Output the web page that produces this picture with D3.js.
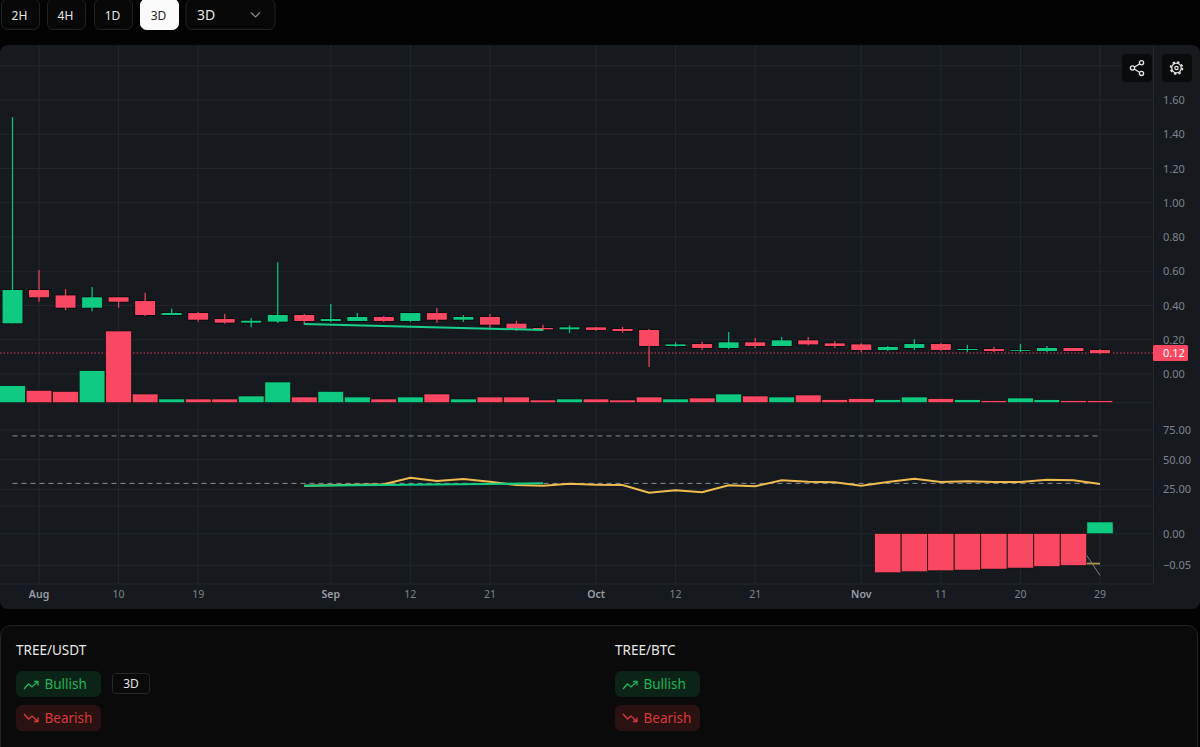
<!DOCTYPE html>
<html><head><meta charset="utf-8">
<script src="https://cdn.jsdelivr.net/npm/d3@7/dist/d3.min.js"></script>
<style>html,body{margin:0;padding:0;background:#030303;overflow:hidden}svg{display:block}text{font-family:"Noto Sans",sans-serif}</style>
</head><body><svg id="c" width="1200" height="747"></svg>
<script>
const opens =[.296,.4905,.459,.387,.448,.426,.3445,.356,.321,.2998,.3056,.3445,.3095,.3095,.333,.3095,.356,.317,.333,.294,.2686,.261,.2725,.263,.257,.1635,.175,.152,.185,.1635,.1966,.179,.173,.140,.152,.175,.140,.146,.136,.134,.152,.140];
const highs =[1.50,.607,.496,.508,.448,.475,.3815,.362,.350,.327,.652,.350,.409,.356,.339,.356,.385,.3445,.350,.311,.288,.284,.276,.2745,.263,.185,.189,.245,.210,.216,.216,.191,.179,.1635,.2024,.181,.169,.158,.175,.163,.152,.146];
const lows  =[.296,.422,.372,.366,.387,.339,.3445,.3056,.294,.2725,.298,.286,.3036,.3095,.3036,.3036,.2998,.3036,.2706,.251,.253,.239,.251,.241,.041,.158,.140,.146,.152,.1635,.167,.154,.128,.134,.140,.134,.128,.128,.128,.128,.134,.115];
const closes=[.4905,.448,.387,.448,.422,.3445,.356,.317,.2998,.311,.3445,.3095,.321,.333,.3095,.356,.317,.333,.288,.2647,.261,.2725,.257,.251,.1635,.173,.152,.185,.1635,.1966,.173,.1635,.140,.158,.175,.140,.146,.134,.140,.152,.134,.121];
const volumes=[17,12.3,11.3,32,71.7,8.7,3.7,3.7,3.7,6.7,20.7,5.7,11.3,5.7,3.7,5.7,8.7,3.7,5.7,5.7,2.7,3.7,3.7,2.7,5.7,3.7,4.7,8.7,6.7,5.7,7.7,3,4,3,5.7,4,3,2,4.7,3,2,2];
const lastPrice=0.1226, lastLabel="0.12";
const priceTrendIdx=[11,20], priceTrend=[.292,.257];
const rsiStart=11;
const rsi=[28,28.4,28.8,29.2,34.8,32,33.7,31.4,28.6,28,29.7,28.9,28.6,22.1,24.2,22.5,28.4,27.5,32.6,31.4,30.9,28,31.1,33.9,31.1,31.7,31.1,31.1,33.1,32.6,29.5];
const rsiBands=[70,30];
const rsiTrendIdx=[11,20], rsiTrend=[28,30];
const macdIdx=[33,34,35,36,37,38,39,40,41];
const macdHist=[-.0617,-.0601,-.0585,-.0575,-.0559,-.0543,-.0517,-.0501,.0185];
const macdLineIdx=[40,41], macdGold=[-.047,-.0475], macdGrey=[-.003,-.066];
const xTickIdx=[1,4,7,12,15,18,22,25,28,32,35,38,41];
const xTickLabels=["Aug","10","19","Sep","12","21","Oct","12","21","Nov","11","20","29"];
const xMonths=["Aug","Sep","Oct","Nov"];
const priceTicks=[1.6,1.4,1.2,1.0,.8,.6,.4,.2,0];
const priceGrid=[1.8,...priceTicks];
const rsiTicks=[75,50,25];
const macdTicks=[0,-.05];
const timeframes=["2H","4H","1D","3D"], activeFrame="3D";

const GREEN="#0fcb81",RED="#fb4862",GOLD="#f0bc50",GRID="#23272d",PANEL="#161a1f",OUT="#0b0d10",AX="#7f838c";
const svg=d3.select("#c");
const n=opens.length, idx=d3.range(n);
const x=d3.scaleBand().domain(idx).range([-0.76,1113.26]);
const cx=i=>x(i)+x.bandwidth()/2;
const yP=d3.scaleLinear().domain([0,1.6]).range([374,100]);
const yV=d3.scaleLinear().domain([0,71.7]).range([402.7,331]);
const yR=d3.scaleLinear().domain([25,75]).range([489.3,430]);
const yM=d3.scaleLinear().domain([-.05,0]).range([565.3,533.7]);

// top buttons
const bx=[1,47,94,140];
timeframes.forEach((t,i)=>{
  const a=t===activeFrame;
  svg.append("rect").attr("x",bx[i]+.5).attr("y",-1).attr("width",38).attr("height",30.5).attr("rx",6)
    .attr("fill",a?"#fafafa":"#080808").attr("stroke",a?"#fafafa":"#202225");
  svg.append("text").attr("x",bx[i]+18.5).attr("y",19.5).attr("text-anchor","middle").attr("font-size",12)
    .attr("fill",a?"#222":"#e6e6e6").text(t);
});
svg.append("rect").attr("x",186).attr("y",-1).attr("width",89).attr("height",30.5).attr("rx",6).attr("fill","#080808").attr("stroke","#202225");
svg.append("text").attr("x",197).attr("y",20).attr("font-size",14).attr("fill","#e6e6e6").text("3D");
svg.append("path").attr("d","M251 12.5l4.5 4.5 4.5-4.5").attr("fill","none").attr("stroke","#8a8a8a").attr("stroke-width",1.2);

// chart panel
svg.append("clipPath").attr("id","pc").append("rect").attr("x",0).attr("y",45).attr("width",1200).attr("height",564).attr("rx",8);
svg.append("rect").attr("x",0).attr("y",45).attr("width",1200).attr("height",564).attr("rx",8).attr("fill",PANEL);
const g=svg.append("g").attr("clip-path","url(#pc)");

// grid
const hLines=[...priceGrid.map(yP),402.7,...rsiTicks.map(yR),506,...macdTicks.map(yM),584];
g.selectAll(".h").data(hLines).join("line").attr("x1",0).attr("x2",1153).attr("y1",d=>d).attr("y2",d=>d).attr("stroke",GRID).attr("stroke-width",1);
g.selectAll(".v").data(xTickIdx).join("line").attr("x1",cx).attr("x2",cx).attr("y1",45).attr("y2",584).attr("stroke",GRID).attr("stroke-width",1);
g.append("line").attr("x1",1153.5).attr("x2",1153.5).attr("y1",45).attr("y2",584).attr("stroke",GRID);

// last price line
g.append("line").attr("x1",0).attr("x2",1153).attr("y1",yP(lastPrice)).attr("y2",yP(lastPrice)).attr("stroke",RED).attr("stroke-width",1).attr("stroke-dasharray","1.5 2").attr("opacity",.85);

// volume
g.selectAll(".vol").data(idx).join("rect").attr("x",i=>x(i)+.4).attr("width",x.bandwidth()-.8)
  .attr("y",i=>yV(volumes[i])).attr("height",i=>yV(0)-yV(volumes[i]))
  .attr("fill",i=>closes[i]>=opens[i]?GREEN:RED).attr("stroke",OUT).attr("stroke-width",.6);

// candles
const col=i=>closes[i]>=opens[i]?GREEN:RED;
g.selectAll(".o").data(idx).join("rect").attr("x",i=>cx(i)-11).attr("width",22)
  .attr("y",i=>yP(Math.max(opens[i],closes[i]))-1).attr("height",i=>Math.abs(yP(opens[i])-yP(closes[i]))+2).attr("fill",OUT);
g.selectAll(".w").data(idx).join("line").attr("x1",cx).attr("x2",cx).attr("y1",i=>yP(highs[i])).attr("y2",i=>yP(lows[i]))
  .attr("stroke",col).attr("stroke-width",1.3).attr("opacity",.9);
g.selectAll(".b").data(idx).join("rect").attr("x",i=>cx(i)-10).attr("width",20)
  .attr("y",i=>yP(Math.max(opens[i],closes[i]))).attr("height",i=>Math.max(.8,Math.abs(yP(opens[i])-yP(closes[i])))).attr("fill",col);
// price trend line
g.append("path").attr("d",d3.line().x((d,i)=>cx(priceTrendIdx[i])).y(d=>yP(d))(priceTrend)).attr("fill","none").attr("stroke","#18d08e").attr("stroke-width",2);

// RSI
g.selectAll(".band").data(rsiBands).join("line").attr("x1",cx(0)).attr("x2",cx(n-1)).attr("y1",yR).attr("y2",yR)
  .attr("stroke","#8b8e96").attr("stroke-width",1).attr("stroke-dasharray","5 4");
g.append("path").attr("d",d3.line().x((d,i)=>cx(rsiStart+i)).y(d=>yR(d))(rsi)).attr("fill","none").attr("stroke",GOLD).attr("stroke-width",2);
g.append("path").attr("d",d3.line().x((d,i)=>cx(rsiTrendIdx[i])).y(d=>yR(d))(rsiTrend)).attr("fill","none").attr("stroke","#10cf85").attr("stroke-width",2);

// MACD
const lm=d3.line().x((d,i)=>cx(macdLineIdx[i])).y(d=>yM(d));
g.append("path").attr("d",lm(macdGold)).attr("fill","none").attr("stroke","#b8964a").attr("stroke-width",1.8);
g.append("path").attr("d",lm(macdGrey)).attr("fill","none").attr("stroke","#7f828a").attr("stroke-width",1);
g.selectAll(".m").data(macdHist).join("rect").attr("x",(d,i)=>x(macdIdx[i])+.2).attr("width",x.bandwidth()-.4)
  .attr("y",d=>yM(Math.max(d,0))).attr("height",d=>Math.abs(yM(d)-yM(0)))
  .attr("fill",d=>d>=0?GREEN:RED).attr("stroke",OUT).attr("stroke-width",.5);

// axes
function yAxis(scale,ticks){
  const a=svg.append("g").attr("transform","translate(1153,0)")
    .call(d3.axisRight(scale).tickValues(ticks).tickFormat(d3.format(".2f")).tickSize(0).tickPadding(10));
  a.select(".domain").remove();
  a.selectAll("text").attr("font-size",11).attr("fill",AX).attr("font-family",'"Noto Sans",sans-serif');
}
yAxis(yP,priceTicks);yAxis(yR,rsiTicks);yAxis(yM,macdTicks);
const xa=svg.append("g").attr("transform","translate(0,584)")
  .call(d3.axisBottom(x).tickValues(xTickIdx).tickFormat(i=>xTickLabels[xTickIdx.indexOf(i)]).tickSize(0).tickPadding(7));
xa.select(".domain").remove();
xa.selectAll("text").attr("font-size",10.5).attr("font-family",'"Noto Sans",sans-serif')
  .attr("fill",function(){return xMonths.includes(this.textContent)?"#9a9da5":AX})
  .attr("font-weight",function(){return xMonths.includes(this.textContent)?600:400});

// last price tag
svg.append("rect").attr("x",1153).attr("y",yP(lastPrice)-8).attr("width",35).attr("height",16).attr("rx",1.5).attr("fill",RED);
svg.append("text").attr("x",1163).attr("y",yP(lastPrice)+4).attr("font-size",11).attr("fill","#fff").text(lastLabel);

// toolbar icons
[[1122],[1162]].forEach(([bxx])=>svg.append("rect").attr("x",bxx).attr("y",54).attr("width",30).attr("height",28).attr("rx",4).attr("fill","#0a0b0d"));
const sh=svg.append("g").attr("fill","none").attr("stroke","#e8e8e8").attr("stroke-width",1.3);
sh.append("path").attr("d","M1134.5 67l5-3M1134.5 69.3l5 3");
[[1132.5,68],[1141.5,62.8],[1141.5,73.4]].forEach(p=>sh.append("circle").attr("cx",p[0]).attr("cy",p[1]).attr("r",2.1));
const ge=svg.append("g").attr("fill","none").attr("stroke","#e8e8e8");
ge.append("circle").attr("cx",1176.5).attr("cy",68).attr("r",4.8).attr("stroke-width",1.3);
ge.append("circle").attr("cx",1176.5).attr("cy",68).attr("r",6).attr("stroke-width",1.6).attr("stroke-dasharray","2.4 2.3");
ge.append("circle").attr("cx",1176.5).attr("cy",68).attr("r",1.7).attr("stroke-width",1.2);

// bottom panel
svg.append("rect").attr("x",.5).attr("y",625.5).attr("width",1197).attr("height",140).attr("rx",10).attr("fill","#0a0a0a").attr("stroke","#222427");
function pair(px,name){
  svg.append("text").attr("x",px).attr("y",655).attr("font-size",13.5).attr("fill","#e8e8e8").text(name);
  svg.append("rect").attr("x",px).attr("y",671).attr("width",85).attr("height",26).attr("rx",6).attr("fill","#0c2417");
  svg.append("text").attr("x",px+28.5).attr("y",689).attr("font-size",13.5).attr("fill","#22b457").text("Bullish");
  svg.append("path").attr("d",`M${px+8} ${689}l4.5-5 3.5 3 6-5.5M${px+18} 681.5h4v4`).attr("fill","none").attr("stroke","#22b457").attr("stroke-width",1.3);
  svg.append("rect").attr("x",px).attr("y",705).attr("width",85).attr("height",26).attr("rx",6).attr("fill","#2a1212");
  svg.append("text").attr("x",px+28.5).attr("y",723).attr("font-size",13.5).attr("fill","#d93a3a").text("Bearish");
  svg.append("path").attr("d",`M${px+8} ${714}l4.5 5 3.5-3 6 5.5M${px+18} 721.5h4v-4`).attr("fill","none").attr("stroke","#d93a3a").attr("stroke-width",1.3);
}
pair(16,"TREE/USDT");pair(615,"TREE/BTC");
svg.append("rect").attr("x",112.5).attr("y",673.5).attr("width",37).attr("height",20).attr("rx",3).attr("fill","#0a0a0a").attr("stroke","#26282b");
svg.append("text").attr("x",131).attr("y",688).attr("text-anchor","middle").attr("font-size",12).attr("fill","#e6e6e6").text("3D");
</script></body></html>
